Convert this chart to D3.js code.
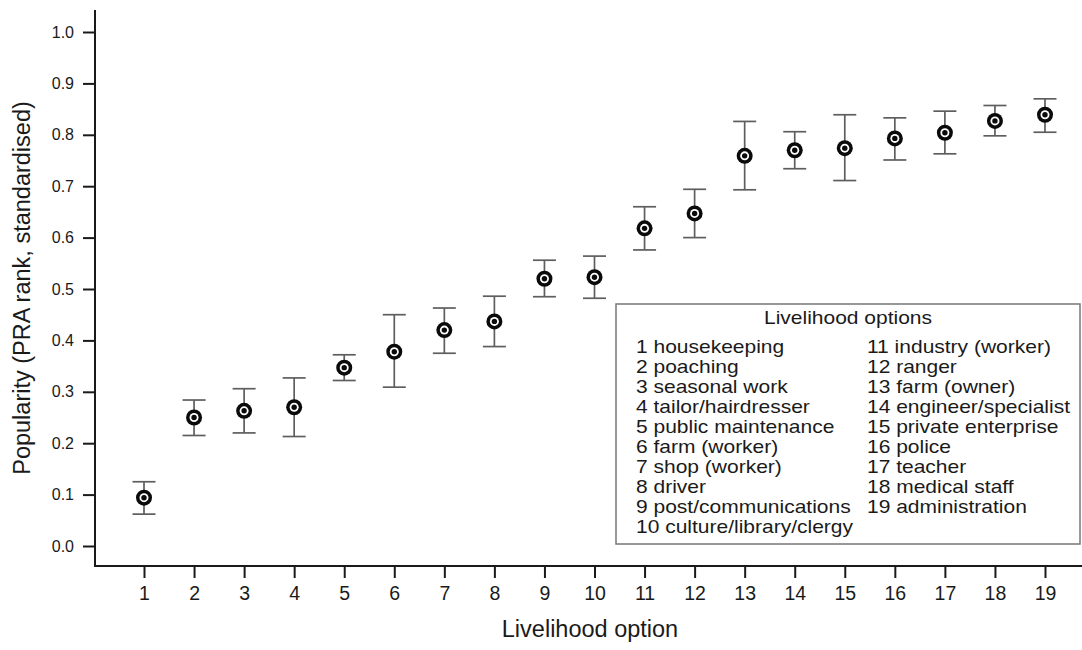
<!DOCTYPE html>
<html>
<head>
<meta charset="utf-8">
<script src="https://cdn.jsdelivr.net/npm/d3@7"></script>
<style>
  html, body { margin: 0; padding: 0; background: #fff; }
  svg { display: block; font-family: "Liberation Sans", Arial, Helvetica, sans-serif; }
</style>
</head>
<body>
<svg id="chart" width="1082" height="650"></svg>
<script>
// ---- data ----
const options = [1,2,3,4,5,6,7,8,9,10,11,12,13,14,15,16,17,18,19];
const means  = [0.094,0.250,0.263,0.270,0.347,0.378,0.420,0.437,0.520,0.523,0.618,0.647,0.759,0.770,0.774,0.793,0.804,0.827,0.839];
const upper  = [0.125,0.284,0.306,0.327,0.372,0.450,0.463,0.486,0.556,0.564,0.660,0.694,0.826,0.806,0.839,0.833,0.846,0.857,0.870];
const lower  = [0.062,0.215,0.220,0.213,0.322,0.309,0.375,0.388,0.485,0.482,0.576,0.600,0.693,0.734,0.711,0.751,0.763,0.798,0.805];
const yTicks = [0.0,0.1,0.2,0.3,0.4,0.5,0.6,0.7,0.8,0.9,1.0];
const legendTitle = "Livelihood options";
const legendLabels = ["housekeeping","poaching","seasonal work","tailor/hairdresser","public maintenance",
  "farm (worker)","shop (worker)","driver","post/communications","culture/library/clergy",
  "industry (worker)","ranger","farm (owner)","engineer/specialist","private enterprise",
  "police","teacher","medical staff","administration"];
const xTitle = "Livelihood option";
const yTitle = "Popularity (PRA rank, standardised)";

// ---- layout ----
const svg = d3.select("#chart");
const plot = { left: 95, right: 1082, top: 10, bottom: 566 };
const x = d3.scaleLinear().domain([1, 19]).range([144, 1045]);
const y = d3.scaleLinear().domain([0, 1]).range([546, 32]);
const ink = "#1a1a1a";

// axes lines (L shape)
svg.append("line").attr("x1", plot.left).attr("x2", plot.left)
  .attr("y1", plot.top).attr("y2", plot.bottom + 1)
  .attr("stroke", ink).attr("stroke-width", 2);
svg.append("line").attr("x1", plot.left - 1).attr("x2", plot.right)
  .attr("y1", plot.bottom).attr("y2", plot.bottom)
  .attr("stroke", ink).attr("stroke-width", 2);

// y axis
const yAxis = svg.append("g").attr("transform", `translate(${plot.left},0)`)
  .call(d3.axisLeft(y).tickValues(yTicks).tickSize(12).tickPadding(9).tickFormat(d3.format(".1f")));
yAxis.select(".domain").remove();
yAxis.attr("font-size", null).attr("font-family", null);
yAxis.selectAll(".tick line").attr("stroke", ink).attr("stroke-width", 2);
yAxis.selectAll(".tick text").attr("font-size", 16).attr("fill", ink);

// x axis
const xAxis = svg.append("g").attr("transform", `translate(0,${plot.bottom})`)
  .call(d3.axisBottom(x).tickValues(options).tickSize(12).tickPadding(8).tickFormat(d3.format("d")));
xAxis.select(".domain").remove();
xAxis.attr("font-size", null).attr("font-family", null);
xAxis.selectAll(".tick line").attr("stroke", ink).attr("stroke-width", 2);
xAxis.selectAll(".tick text").attr("font-size", 19.5).attr("fill", ink);

// titles
svg.append("text").attr("x", 590).attr("y", 637).attr("text-anchor", "middle")
  .attr("font-size", 23.5).attr("fill", ink).text(xTitle);
svg.append("text").attr("transform", "translate(30,288) rotate(-90)").attr("text-anchor", "middle")
  .attr("font-size", 23.5).attr("fill", ink).text(yTitle);

// error bars
const data = options.map((o, i) => ({ o, m: means[i], hi: upper[i], lo: lower[i] }));
const eb = svg.append("g").attr("stroke", "#5e5e5e").attr("stroke-width", 1.7).attr("fill", "none");
const capW = 11.5;
eb.selectAll("line.v").data(data).join("line").attr("class", "v")
  .attr("x1", d => x(d.o)).attr("x2", d => x(d.o))
  .attr("y1", d => y(d.hi)).attr("y2", d => y(d.lo));
eb.selectAll("line.t").data(data).join("line").attr("class", "t")
  .attr("x1", d => x(d.o) - capW).attr("x2", d => x(d.o) + capW)
  .attr("y1", d => y(d.hi)).attr("y2", d => y(d.hi));
eb.selectAll("line.b").data(data).join("line").attr("class", "b")
  .attr("x1", d => x(d.o) - capW).attr("x2", d => x(d.o) + capW)
  .attr("y1", d => y(d.lo)).attr("y2", d => y(d.lo));

// markers
const mk = svg.append("g");
mk.selectAll("circle.o").data(data).join("circle").attr("class", "o")
  .attr("cx", d => x(d.o)).attr("cy", d => y(d.m)).attr("r", 8).attr("fill", "#0a0a0a");
mk.selectAll("circle.w").data(data).join("circle").attr("class", "w")
  .attr("cx", d => x(d.o)).attr("cy", d => y(d.m)).attr("r", 4.5).attr("fill", "#fff");
mk.selectAll("circle.c").data(data).join("circle").attr("class", "c")
  .attr("cx", d => x(d.o)).attr("cy", d => y(d.m)).attr("r", 2.7).attr("fill", "#0a0a0a");

// legend
const lgFont = 17.8, lgStretch = 1.18;
const lg = svg.append("g");
lg.append("rect").attr("x", 616).attr("y", 304).attr("width", 464).attr("height", 240)
  .attr("fill", "#fff").attr("stroke", "#777").attr("stroke-width", 1.5);
lg.append("g").attr("transform", `translate(848,324) scale(${lgStretch},1)`)
  .append("text").attr("text-anchor", "middle")
  .attr("font-size", lgFont).attr("fill", ink).text(legendTitle);
lg.selectAll("g.item").data(legendLabels).join("g").attr("class", "item")
  .attr("transform", (d, i) => `translate(${i < 10 ? 636 : 867},${353 + 20 * (i < 10 ? i : i - 10)}) scale(${lgStretch},1)`)
  .append("text")
  .attr("font-size", lgFont).attr("fill", ink)
  .text((d, i) => `${options[i]} ${d}`);
</script>
</body>
</html>
